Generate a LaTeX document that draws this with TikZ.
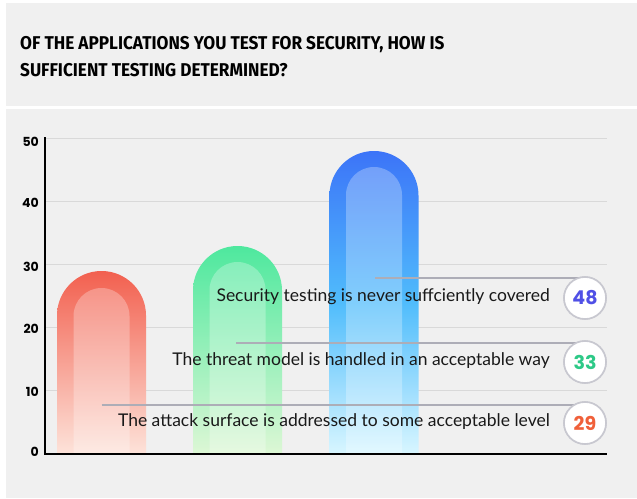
\documentclass[tikz,border=0pt]{standalone}
\usepackage{fontspec}
\setmainfont{Lato}
\newfontfamily\titlefont[FakeStretch=0.93]{Fira Sans}
\newfontfamily\numfont{Poppins}
\definecolor{panel}{HTML}{F0F0F0}
\definecolor{gridc}{HTML}{D9D9D9}
\definecolor{leader}{HTML}{ADADB7}
\definecolor{ringc}{HTML}{C8C8D0}
\definecolor{redtop}{HTML}{F2604F}
\definecolor{redbot}{HTML}{FDE3DA}
\definecolor{grntop}{HTML}{4EE89E}
\definecolor{grnbot}{HTML}{DDF7D5}
\definecolor{blutop}{HTML}{3C74F8}
\definecolor{blubot}{HTML}{D8F6FF}
\definecolor{num48}{HTML}{5050E6}
\definecolor{num33}{HTML}{2DC987}
\definecolor{num29}{HTML}{F0603A}
\tikzset{
  gridline/.style={gridc, line width=1pt},
  axisline/.style={black, line width=2pt},
  leaderline/.style={leader, line width=2.2pt},
  tick/.style={font=\numfont\bfseries\fontsize{12.5}{14}\selectfont, anchor=east, inner sep=0pt},
  lbl/.style={font=\fontsize{17.5}{20}\selectfont, anchor=east, inner sep=0pt, text=black!90},
  ring/.style={circle, draw=ringc, line width=1.6pt, fill=white, minimum size=42pt, inner sep=0pt, font=\numfont\bfseries\fontsize{19}{22}\selectfont},
  inner/.style={fill=white, fill opacity=0.28, draw=none}
}
\begin{document}
\begin{tikzpicture}[x=1pt,y=-1pt]
\useasboundingbox (0,0) rectangle (637,498);
\fill[white] (0,0) rectangle (637,498);
% panels
\fill[panel] (6,3) rectangle (637,106);
\fill[panel] (6,108.5) rectangle (637,498);
\node[anchor=base west, inner sep=0pt, font=\titlefont\bfseries\fontsize{18.5}{26.5}\selectfont] (title1) at (20,49.5)
  {OF THE APPLICATIONS YOU TEST FOR SECURITY, HOW IS};
\node[anchor=base west, inner sep=0pt, font=\titlefont\bfseries\fontsize{18.5}{26.5}\selectfont] (title2) at (20,76)
  {SUFFICIENT TESTING DETERMINED?};
% grid
\foreach \v/\yy in {50/138,40/201.2,30/264.4,20/327.6,10/390.8} {
  \draw[gridline] (45,\yy) -- (607,\yy);
}
\foreach \v/\yy in {50/142,40/203,30/267,20/329,10/392,0/452} {
  \node[tick] (t\v) at (39,\yy) {\v};
}
% bars
\shade[top color=redtop, bottom color=redbot] (57,454) -- (57,315.5) arc[start angle=180, end angle=360, radius=44.5] -- (146,454) -- cycle;
\fill[inner] (73.5,454) -- (73.5,316) arc[start angle=180, end angle=360, radius=28] -- (129.5,454) -- cycle;
\shade[top color=grntop, bottom color=grnbot] (193,454) -- (193,290.5) arc[start angle=180, end angle=360, radius=44.5] -- (282,454) -- cycle;
\fill[inner] (209.5,454) -- (209.5,290) arc[start angle=180, end angle=360, radius=28] -- (265.5,454) -- cycle;
\shade[top color=blutop, bottom color=blubot, middle color=blutop!60!cyan!80!white] (329.5,454) -- (329.5,195.5) arc[start angle=180, end angle=360, radius=44.5] -- (418.5,454) -- cycle;
\fill[inner] (346,454) -- (346,195) arc[start angle=180, end angle=360, radius=28] -- (402,454) -- cycle;
% axes
\draw[axisline] (45,137) -- (45,455);
\draw[axisline] (44,454) -- (607,454);
% anchor points on bars
\coordinate (bb) at (375,278);
\coordinate (gb) at (236,343);
\coordinate (rb) at (101.5,405);
% circles
\node[ring, text=num48] (c48) at (585,298) {48};
\node[ring, text=num33] (c33) at (585,362) {33};
\node[ring, text=num29] (c29) at (585,423) {29};
% leader lines
\draw[leaderline] (bb) -- (bb -| c48);
\draw[leaderline] (gb) -- (gb -| c33);
\draw[leaderline] (rb) -- (rb -| c29);
% redraw circles over lines
\node[ring, text=num48] at (c48) {48};
\node[ring, text=num33] at (c33) {33};
\node[ring, text=num29] at (c29) {29};
% labels
\node[lbl] (l48) at (550,297) {Security testing is never suffciently covered};
\node[lbl] (l33) at (550,361) {The threat model is handled in an acceptable way};
\node[lbl] (l29) at (550,422) {The attack surface is addressed to some acceptable level};
\end{tikzpicture}
\end{document}
